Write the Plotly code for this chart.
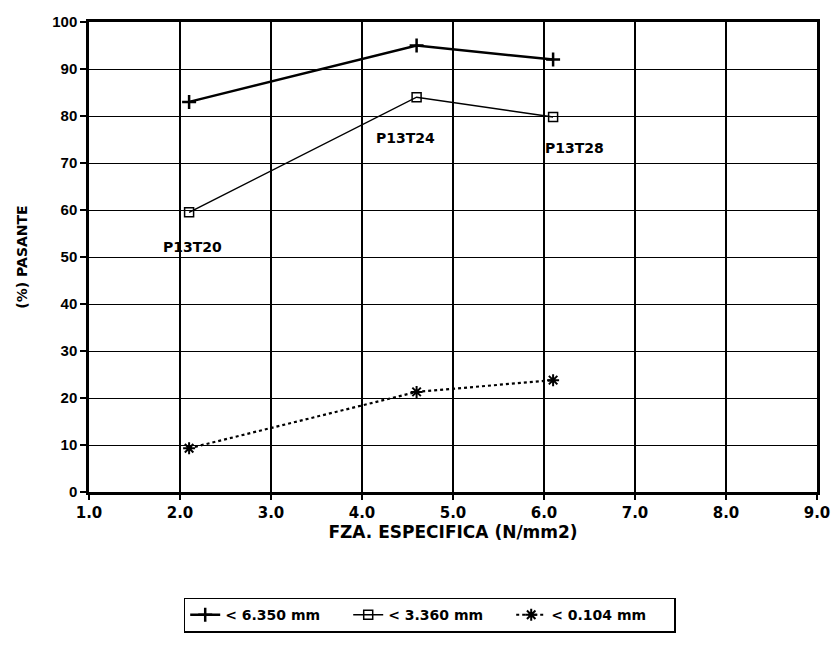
import plotly.graph_objects as go

fza = [2.1, 4.6, 6.1]
pas_6350 = [83, 95, 92]
pas_3360 = [59.5, 84, 79.8]
pas_0104 = [9.3, 21.3, 23.8]
series_names = ["< 6.350 mm", "< 3.360 mm", "< 0.104 mm"]
label_text = ["P13T20", "P13T24", "P13T28"]
label_x = [2.14, 4.48, 6.33]
label_y = [52.1, 75.3, 73.2]
x_ticks = [1, 2, 3, 4, 5, 6, 7, 8, 9]
y_ticks = [0, 10, 20, 30, 40, 50, 60, 70, 80, 90, 100]

FONT = "DejaVu Sans"
FONT_Y = "Liberation Sans"

def b(s):
    return "<b>" + s + "</b>"

fig = go.Figure()
fig.add_trace(go.Scatter(
    x=fza, y=pas_6350, name=b(series_names[0]), mode="lines+markers",
    line=dict(color="black", width=2.5),
    marker=dict(symbol="cross-thin", size=10, line=dict(color="black", width=2.5), color="black"),
))
fig.add_trace(go.Scatter(
    x=fza, y=pas_3360, name=b(series_names[1]), mode="lines+markers",
    line=dict(color="black", width=1.5),
    marker=dict(symbol="square-open", size=9, line=dict(color="black", width=1.5), color="black"),
))
fig.add_trace(go.Scatter(
    x=fza, y=pas_0104, name=b(series_names[2]), mode="lines+markers",
    line=dict(color="black", width=2.2, dash="dot"),
    marker=dict(symbol="asterisk-open", size=10, line=dict(color="black", width=2), color="black"),
))

for t, lx, ly in zip(label_text, label_x, label_y):
    fig.add_annotation(x=lx, y=ly, text=b(t), showarrow=False,
                       font=dict(family=FONT, size=14, color="black"))

fig.update_layout(
    width=838, height=653,
    margin=dict(l=89, r=21, t=22, b=161, autoexpand=False),
    paper_bgcolor="white", plot_bgcolor="white",
    font=dict(family=FONT, size=13, color="black"),
    showlegend=True,
    legend=dict(orientation="h", x=0.468, y=-0.262, xanchor="center", yanchor="middle",
                bordercolor="black", borderwidth=1.5, bgcolor="white",
                font=dict(family=FONT, size=14, color="black"),
                entrywidth=118, entrywidthmode="pixels", tracegroupgap=0),
)
fig.update_xaxes(
    range=[1, 9], tickvals=x_ticks, ticktext=[b(f"{v:.1f}") for v in x_ticks],
    showgrid=True, gridcolor="black", gridwidth=2,
    showline=True, linecolor="black", linewidth=2.5, mirror=True,
    ticks="outside", ticklen=5, tickwidth=2, tickcolor="black",
    zeroline=False,
    title=dict(text=b("FZA. ESPECIFICA (N/mm2)"), font=dict(family=FONT, size=17), standoff=2),
    tickfont=dict(family=FONT, size=15),
)
fig.update_yaxes(
    range=[0, 100], tickvals=y_ticks, ticktext=[b(str(v)) for v in y_ticks],
    showgrid=True, gridcolor="black", gridwidth=1.3,
    showline=True, linecolor="black", linewidth=2.5, mirror=True,
    ticks="outside", ticklen=6, tickwidth=1.5, tickcolor="black",
    zeroline=False,
    title=dict(text=b("(%) PASANTE"), font=dict(family=FONT, size=14), standoff=22),
    tickfont=dict(family=FONT_Y, size=15),
)

fig.write_html("out.html")
